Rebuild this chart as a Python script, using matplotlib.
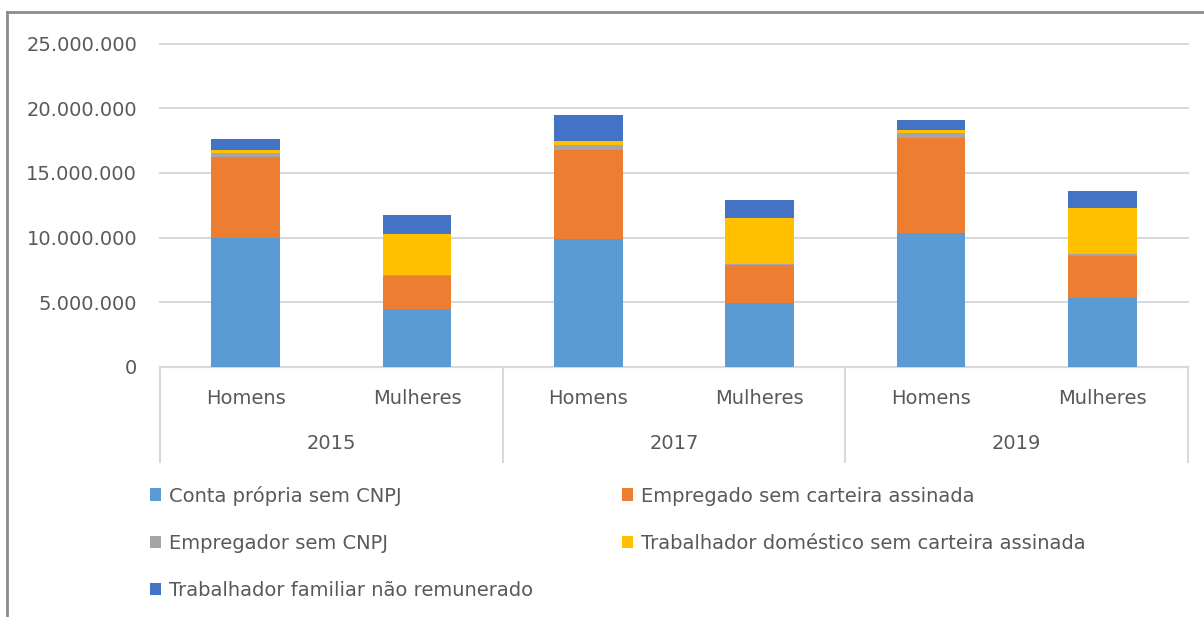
import matplotlib
matplotlib.use("Agg")
import matplotlib.pyplot as plt
from matplotlib.lines import Line2D
from matplotlib.patches import Patch
from matplotlib.ticker import FuncFormatter
import matplotlib.transforms as mtransforms
import numpy as np

# dados
anos = ["2015", "2017", "2019"]
sexos = ["Homens", "Mulheres"]
series = ["Conta própria sem CNPJ", "Empregado sem carteira assinada",
          "Empregador sem CNPJ", "Trabalhador doméstico sem carteira assinada",
          "Trabalhador familiar não remunerado"]
cores = ["#5B9BD5", "#ED7D31", "#A5A5A5", "#FFC000", "#4472C4"]

# ordem: 2015 H, 2015 M, 2017 H, 2017 M, 2019 H, 2019 M
conta_propria = [10000000, 4450000, 9860000, 4970000, 10350000, 5330000]
empregado = [6200000, 2560000, 6930000, 2920000, 7320000, 3230000]
empregador = [350000, 80000, 360000, 100000, 410000, 190000]
domestico = [250000, 3180000, 340000, 3500000, 210000, 3510000]
familiar = [800000, 1500000, 1990000, 1390000, 780000, 1320000]

valores = [conta_propria, empregado, empregador, domestico, familiar]

cinza = "#595959"
plt.rcParams['font.family'] = ['DejaVu Sans']

fig = plt.figure(figsize=(12.04, 6.17), dpi=100)
ax = fig.add_axes([160 / 1204, 1 - 367 / 617, (1188 - 160) / 1204, (367 - 43.5) / 617])

x = np.arange(len(conta_propria))
base = np.zeros(len(x))
for nome, cor, v in zip(series, cores, valores):
    ax.bar(x, v, width=0.40, bottom=base, color=cor, label=nome, zorder=3)
    base = base + np.array(v)

ax.set_xlim(-0.5, 5.5)
ax.set_ylim(0, 25000000)
ax.set_yticks(np.arange(0, 25000001, 5000000))
ax.yaxis.set_major_formatter(FuncFormatter(lambda v, p: f"{int(v):,}".replace(",", ".")))
ax.grid(axis="y", color="#d9d9d9", linewidth=1.5, zorder=0)
for gl in ax.get_ygridlines():
    gl.set_clip_on(False)
ax.tick_params(axis="y", length=0, pad=16.5, labelsize=14, labelcolor=cinza)
ax.set_xticks([])
for s in ["top", "right", "left"]:
    ax.spines[s].set_visible(False)
ax.spines["bottom"].set_color("#d9d9d9")
ax.spines["bottom"].set_linewidth(1.5)

# eixo de categorias em dois níveis
trans = mtransforms.blended_transform_factory(ax.transData, ax.transAxes)
for xs in [-0.5, 1.5, 3.5, 5.5]:
    ax.add_line(Line2D([xs, xs], [0, -0.294], transform=trans, color="#d9d9d9",
                       linewidth=1.5, clip_on=False))
for i in x:
    ax.text(i, -0.096, sexos[i % 2], transform=trans, ha="center", va="center",
            fontsize=14, color=cinza)
for j, ano in enumerate(anos):
    ax.text(2 * j + 0.5, -0.238, ano, transform=trans, ha="center", va="center",
            fontsize=14, color=cinza)

# legenda: coluna 1 com 3 itens, coluna 2 com 2
ordem = [0, 2, 4, 1, 3]
handles = [Patch(facecolor=cores[k], edgecolor="none") for k in ordem]
labels = [series[k] for k in ordem]
fig.legend(handles, labels, ncol=2, loc="upper left",
           bbox_to_anchor=(132 / 1204, 1 - 468 / 617), frameon=False,
           fontsize=14, labelcolor=cinza, handlelength=0.6, handleheight=0.6,
           handletextpad=0.4, columnspacing=4.55, labelspacing=1.45)

# moldura do gráfico
fig.add_artist(Line2D([7 / 1204, 7 / 1204], [0, 1 - 12 / 617], transform=fig.transFigure,
                      color="#8c8c8c", linewidth=2))
fig.add_artist(Line2D([7 / 1204, 1], [1 - 12 / 617, 1 - 12 / 617], transform=fig.transFigure,
                      color="#8c8c8c", linewidth=2))

fig.savefig("out.png", dpi=100, facecolor="white")
